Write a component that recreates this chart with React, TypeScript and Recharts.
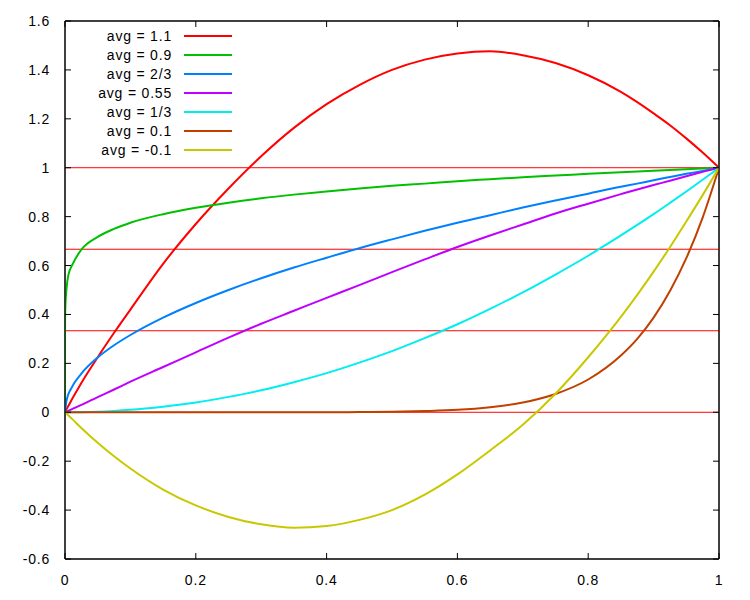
import React from "react";
import { LineChart, Line, XAxis, YAxis, ReferenceLine, ReferenceArea, Legend } from "recharts";

// sample positions shared by most curves (denser near 0 and near 1)
const xs = [0, 0.0025, 0.01, 0.025, 0.05, 0.075, 0.1, 0.15, 0.2, 0.25, 0.3, 0.35, 0.4, 0.45, 0.5, 0.55, 0.6, 0.65, 0.7, 0.75, 0.8, 0.85, 0.875, 0.9, 0.925, 0.95, 0.975, 1];

const avg11 = [0, 0.013, 0.05, 0.12, 0.225, 0.325, 0.42, 0.607, 0.77, 0.915, 1.047, 1.163, 1.26, 1.338, 1.4, 1.442, 1.467, 1.476, 1.46, 1.428, 1.378, 1.31, 1.268, 1.222, 1.174, 1.12, 1.062, 1];
const avg23 = [0, 0.05, 0.1, 0.158, 0.224, 0.274, 0.316, 0.387, 0.447, 0.5, 0.548, 0.592, 0.632, 0.671, 0.707, 0.742, 0.775, 0.806, 0.837, 0.866, 0.894, 0.922, 0.935, 0.949, 0.962, 0.975, 0.987, 1];
const avg055 = [0, 0.003, 0.012, 0.03, 0.062, 0.093, 0.125, 0.185, 0.245, 0.305, 0.362, 0.415, 0.468, 0.52, 0.573, 0.625, 0.676, 0.723, 0.768, 0.813, 0.853, 0.892, 0.911, 0.929, 0.947, 0.965, 0.983, 1];
const avg13 = [0, 0, 0.0001, 0.0006, 0.0025, 0.0056, 0.01, 0.023, 0.04, 0.063, 0.09, 0.123, 0.16, 0.203, 0.25, 0.303, 0.36, 0.423, 0.49, 0.563, 0.64, 0.723, 0.766, 0.81, 0.856, 0.903, 0.951, 1];
const avg01 = [0, 0, 0, 0, 0, 0, 0, 0, 0, 0, 0, 0, 0, 0.001, 0.002, 0.005, 0.01, 0.021, 0.04, 0.075, 0.134, 0.232, 0.3, 0.387, 0.496, 0.63, 0.796, 1];
const avgNeg01 = [0, -0.006, -0.025, -0.064, -0.125, -0.18, -0.23, -0.316, -0.381, -0.428, -0.458, -0.472, -0.465, -0.44, -0.4, -0.337, -0.254, -0.156, -0.051, 0.076, 0.225, 0.39, 0.48, 0.575, 0.675, 0.78, 0.888, 1];

// the 0.9 curve shoots up right at x=0, so it gets its own samples
const greenXs = [0, 0.00001, 0.0001, 0.0005, 0.0025, 0.005, 0.0125, 0.025, 0.05, 0.075, 0.1, 0.15, 0.2, 0.25, 0.3, 0.35, 0.4, 0.45, 0.5, 0.55, 0.6, 0.65, 0.7, 0.75, 0.8, 0.85, 0.9, 0.95, 1];
const avg09 = [0, 0.28, 0.36, 0.43, 0.51, 0.56, 0.61, 0.665, 0.717, 0.75, 0.775, 0.81, 0.836, 0.857, 0.875, 0.89, 0.903, 0.915, 0.926, 0.935, 0.945, 0.953, 0.961, 0.968, 0.975, 0.982, 0.988, 0.994, 1];

const levels = [1, 2 / 3, 1 / 3, 0];
const xTicks = [0, 0.2, 0.4, 0.6, 0.8, 1];
const yTicks = [-0.6, -0.4, -0.2, 0, 0.2, 0.4, 0.6, 0.8, 1, 1.2, 1.4, 1.6];

const series = [
  { key: "a11", name: "avg = 1.1", color: "#ff0000" },
  { key: "a09", name: "avg = 0.9", color: "#00c000" },
  { key: "a23", name: "avg = 2/3", color: "#0080ff" },
  { key: "a055", name: "avg = 0.55", color: "#c000ff" },
  { key: "a13", name: "avg = 1/3", color: "#00eeee" },
  { key: "a01", name: "avg = 0.1", color: "#c04000" },
  { key: "aNeg", name: "avg = -0.1", color: "#c8c800" },
];

const rows = xs.map((x, i) => ({
  x,
  a11: avg11[i],
  a23: avg23[i],
  a055: avg055[i],
  a13: avg13[i],
  a01: avg01[i],
  aNeg: avgNeg01[i],
}));
const greenRows = greenXs.map((x, i) => ({ x, a09: avg09[i] }));

const FONT = "'Liberation Sans', Arial, sans-serif";
const textStyle = { fontFamily: FONT, fontSize: 14, letterSpacing: 0.8 };

// gnuplot-style ticks: pointing into the plot, labels only on bottom/left
const XTick = (props: any) => {
  const { x, y, payload, side } = props;
  const dir = side === "top" ? 1 : -1;
  return (
    <g>
      <line x1={x} y1={y} x2={x} y2={y + dir * 6} stroke="#000" />
      {side !== "top" && (
        <text x={x} y={y + 21} textAnchor="middle" dominantBaseline="central" fill="#000" style={textStyle}>
          {String(payload.value)}
        </text>
      )}
    </g>
  );
};

const YTick = (props: any) => {
  const { x, y, payload, side } = props;
  const dir = side === "right" ? -1 : 1;
  return (
    <g>
      <line x1={x} y1={y} x2={x + dir * 6} y2={y} stroke="#000" />
      {side !== "right" && (
        <text x={x - 15} y={y} textAnchor="end" dominantBaseline="central" fill="#000" style={textStyle}>
          {String(payload.value)}
        </text>
      )}
    </g>
  );
};

const renderLegend = () => (
  <div style={{ ...textStyle, color: "#000" }}>
    {series.map((s) => (
      <div key={s.key} style={{ display: "flex", alignItems: "center", height: 19 }}>
        <span style={{ width: 172, textAlign: "right", whiteSpace: "nowrap" }}>{s.name}</span>
        <span style={{ marginLeft: 12, width: 48, height: 2, background: s.color }} />
      </div>
    ))}
  </div>
);

export default function App() {
  return (
    <div style={{ position: "absolute", left: 0, top: 0, width: 750, height: 600, background: "#fff" }}>
      <LineChart width={750} height={600} data={rows} margin={{ top: 20, right: 30, bottom: 11, left: 5 }}>
        <XAxis
          dataKey="x"
          type="number"
          domain={[0, 1]}
          ticks={xTicks}
          height={30}
          tickSize={0}
          tickMargin={0}
          axisLine={{ stroke: "#000" }}
          tick={<XTick side="bottom" />}
          allowDataOverflow
        />
        <XAxis
          xAxisId="top"
          orientation="top"
          dataKey="x"
          type="number"
          domain={[0, 1]}
          ticks={xTicks}
          height={1}
          tickSize={0}
          tickMargin={0}
          axisLine={{ stroke: "#000" }}
          tick={<XTick side="top" />}
          allowDataOverflow
        />
        <YAxis
          type="number"
          domain={[-0.6, 1.6]}
          ticks={yTicks}
          width={60}
          tickSize={0}
          tickMargin={0}
          axisLine={{ stroke: "#000" }}
          tick={<YTick side="left" />}
          allowDataOverflow
        />
        <YAxis
          yAxisId="right"
          orientation="right"
          type="number"
          domain={[-0.6, 1.6]}
          ticks={yTicks}
          width={1}
          tickSize={0}
          tickMargin={0}
          axisLine={{ stroke: "#000" }}
          tick={<YTick side="right" />}
          allowDataOverflow
        />
        <ReferenceArea x1={0} x2={1} y1={-0.6} y2={1.6} fill="none" stroke="#000" strokeWidth={1} />
        {levels.map((v) => (
          <ReferenceLine key={v} y={v} stroke="#ff0000" strokeWidth={1} />
        ))}
        <Legend
          layout="vertical"
          align="center"
          verticalAlign="middle"
          content={renderLegend}
          wrapperStyle={{ left: 0, top: 26, width: 240, height: 140 }}
        />
        {series.map((s) => (
          <Line
            key={s.key}
            data={s.key === "a09" ? greenRows : undefined}
            dataKey={s.key}
            name={s.name}
            type="monotone"
            stroke={s.color}
            strokeWidth={2}
            dot={false}
            activeDot={false}
            isAnimationActive={false}
          />
        ))}
      </LineChart>
    </div>
  );
}
